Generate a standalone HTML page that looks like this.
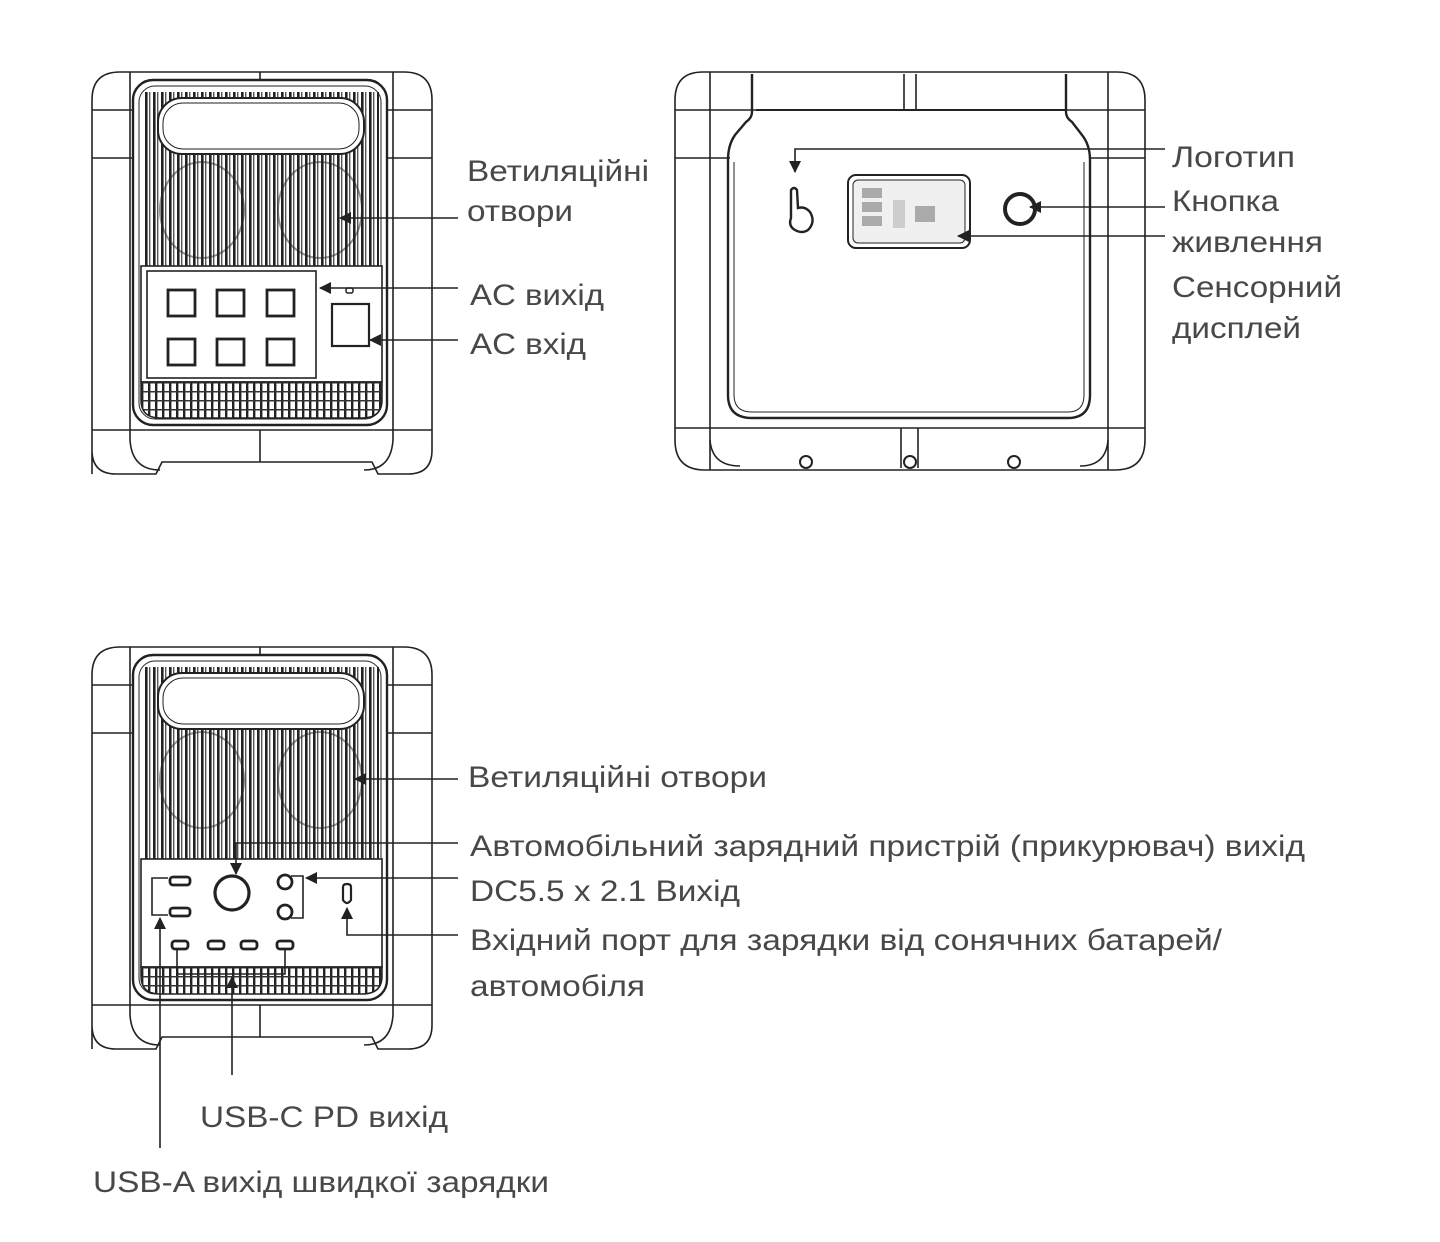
<!DOCTYPE html>
<html><head><meta charset="utf-8"><style>
html,body{margin:0;padding:0;background:#fff}
svg{display:block}
text{font-family:"Liberation Sans",Arial,sans-serif;font-size:30px;fill:#484848}
</style></head><body>
<svg width="1440" height="1242" viewBox="0 0 1440 1242" xmlns="http://www.w3.org/2000/svg">
<defs>
<pattern id="vent" x="0" y="0" width="8" height="10" patternUnits="userSpaceOnUse">
<rect x="0" y="0" width="8" height="10" fill="#fff"/><rect x="1" y="0" width="2.6" height="10" fill="#222"/><rect x="5" y="0" width="1.4" height="10" fill="#555"/>
</pattern>
<pattern id="grill" x="0" y="0" width="7" height="9" patternUnits="userSpaceOnUse">
<rect width="7" height="9" fill="#fff"/><rect x="1" y="0" width="2.4" height="9" fill="#222"/><rect x="0" y="4" width="7" height="1.5" fill="#333"/>
</pattern>
<marker id="ah" markerWidth="12" markerHeight="12" refX="11" refY="6" orient="auto" markerUnits="userSpaceOnUse">
<path d="M0,0 L12,6 L0,12 z" fill="#222"/></marker>
<g id="body" fill="none" stroke="#222" stroke-width="1.6">
<path d="M92,474 L92,100 Q92,72 120,72 L404,72 Q432,72 432,100 L432,450 Q432,474 408,474 L378,474 L372,462 L162,462 L156,474 L116,474 Q92,474 92,450"/>
<line x1="92" y1="110" x2="133" y2="110"/><line x1="92" y1="158" x2="133" y2="158"/>
<line x1="387" y1="110" x2="432" y2="110"/><line x1="387" y1="158" x2="432" y2="158"/>
<line x1="130" y1="72" x2="130" y2="440"/><line x1="393" y1="72" x2="393" y2="440"/>
<line x1="260" y1="72" x2="260" y2="80"/>
<rect x="133" y="80" width="254" height="345" rx="20" stroke-width="2.4"/>
<rect x="139" y="86" width="242" height="333" rx="16" stroke-width="1"/>
<line x1="92" y1="430" x2="432" y2="430"/>
<line x1="260" y1="430" x2="260" y2="462"/>
<path d="M130,440 Q132,470 160,470" /><path d="M393,440 Q391,470 364,470"/>
</g>
</defs>

<!-- Device 1 -->
<use href="#body"/>
<rect x="143" y="92" width="236" height="174" fill="url(#vent)"/>
<ellipse cx="202" cy="210" rx="42" ry="48" fill="none" stroke="#222" stroke-width="2" opacity=".5"/>
<ellipse cx="320" cy="210" rx="42" ry="48" fill="none" stroke="#222" stroke-width="2" opacity=".5"/>
<rect x="158" y="98" width="206" height="56" rx="24" fill="#fff" stroke="#222" stroke-width="2"/>
<rect x="163" y="103" width="196" height="46" rx="20" fill="none" stroke="#222" stroke-width="1"/>
<rect x="141" y="266" width="241" height="116" fill="#fff" stroke="#222" stroke-width="1.6"/>
<rect x="147" y="271" width="169" height="107" fill="none" stroke="#222" stroke-width="1.6"/>
<g fill="none" stroke="#222" stroke-width="2.8">
<rect x="168" y="290" width="27" height="26"/><rect x="217" y="290" width="27" height="26"/><rect x="267" y="290" width="27" height="26"/>
<rect x="168" y="339" width="27" height="26"/><rect x="217" y="339" width="27" height="26"/><rect x="267" y="339" width="27" height="26"/>
<rect x="332" y="304" width="37" height="42" stroke-width="2.2"/>
<rect x="346" y="288" width="7" height="5" rx="2" stroke-width="1.5"/>
</g>
<path d="M141,382 L382,382 L382,400 Q382,418 362,418 L160,418 Q141,418 141,400 Z" fill="url(#grill)" stroke="#222" stroke-width="1.5"/>
<g stroke="#222" stroke-width="1.6" fill="none">
<line x1="458" y1="218" x2="340" y2="218" marker-end="url(#ah)"/>
<line x1="458" y1="288" x2="320" y2="288" marker-end="url(#ah)"/>
<line x1="458" y1="340" x2="370" y2="340" marker-end="url(#ah)"/>
</g>
<text x="467" y="181" textLength="182" lengthAdjust="spacingAndGlyphs">Ветиляційні</text>
<text x="467" y="221" textLength="106" lengthAdjust="spacingAndGlyphs">отвори</text>
<text x="470" y="305" textLength="134" lengthAdjust="spacingAndGlyphs">AC вихід</text>
<text x="470" y="354" textLength="116" lengthAdjust="spacingAndGlyphs">AC вхід</text>

<!-- Device 2 (top view) -->
<g fill="none" stroke="#222" stroke-width="1.6">
<path d="M675,100 Q675,72 703,72 L1117,72 Q1145,72 1145,100 L1145,440 Q1145,470 1115,470 L705,470 Q675,470 675,440 Z"/>
<line x1="675" y1="110" x2="756" y2="110"/><line x1="675" y1="158" x2="730" y2="158"/>
<line x1="1065" y1="110" x2="1145" y2="110"/><line x1="1090" y1="158" x2="1145" y2="158"/>
<line x1="710" y1="72" x2="710" y2="470"/><line x1="1108" y1="72" x2="1108" y2="470"/>
<path d="M752,74 L752,112 Q752,118 746,122 L735,135 Q728,145 728,160 L728,395 Q728,418 752,418 L1068,418 Q1090,418 1090,395 L1090,160 Q1090,145 1082,135 L1072,122 Q1066,118 1066,112 L1066,74" stroke-width="2.4"/>
<path d="M734,162 L734,395 Q734,412 752,412 L1068,412 Q1084,412 1084,395 L1084,162" stroke-width="1"/>
<line x1="756" y1="110" x2="1065" y2="110" stroke-width="2"/>
<line x1="904" y1="74" x2="904" y2="110"/><line x1="916" y1="74" x2="916" y2="110"/>
<line x1="675" y1="428" x2="1145" y2="428"/>
<line x1="901" y1="428" x2="901" y2="468"/><line x1="918" y1="428" x2="918" y2="468"/>
<path d="M710,440 Q712,466 740,466"/><path d="M1108,440 Q1106,466 1080,466"/>
<circle cx="806" cy="462" r="6" stroke-width="2"/><circle cx="910" cy="462" r="6" stroke-width="2"/><circle cx="1014" cy="462" r="6" stroke-width="2"/>
<rect x="848" y="175" width="122" height="73" rx="8" stroke-width="2"/>
<rect x="853" y="180" width="112" height="63" rx="5" stroke-width="1" fill="#f0f0f0"/>
<circle cx="1020" cy="209" r="15" stroke-width="4"/>
<path d="M791,218 Q788,226 795,230 Q802,234 808,230 Q816,222 810,212 Q805,206 798,208 L797,190 Q794,186 791,190 Z" stroke-width="2.4"/>
</g>
<g fill="#aaa">
<rect x="862" y="188" width="20" height="10"/><rect x="862" y="202" width="20" height="10"/><rect x="862" y="216" width="20" height="10"/>
<rect x="915" y="206" width="20" height="16"/><rect x="893" y="200" width="12" height="28" opacity=".5"/>
</g>
<g stroke="#222" stroke-width="1.6" fill="none">
<polyline points="1165,149 795,149 795,172" marker-end="url(#ah)"/>
<line x1="1165" y1="207" x2="1030" y2="207" marker-end="url(#ah)"/>
<line x1="1165" y1="236" x2="958" y2="236" marker-end="url(#ah)"/>
</g>
<text x="1172" y="167" textLength="123" lengthAdjust="spacingAndGlyphs">Логотип</text>
<text x="1172" y="211" textLength="107" lengthAdjust="spacingAndGlyphs">Кнопка</text>
<text x="1172" y="252" textLength="151" lengthAdjust="spacingAndGlyphs">живлення</text>
<text x="1172" y="297" textLength="170" lengthAdjust="spacingAndGlyphs">Сенсорний</text>
<text x="1172" y="338" textLength="129" lengthAdjust="spacingAndGlyphs">дисплей</text>

<!-- Device 3 -->
<use href="#body" transform="translate(0,575)"/>
<rect x="143" y="667" width="236" height="192" fill="url(#vent)"/>
<ellipse cx="202" cy="780" rx="42" ry="48" fill="none" stroke="#222" stroke-width="2" opacity=".5"/>
<ellipse cx="320" cy="780" rx="42" ry="48" fill="none" stroke="#222" stroke-width="2" opacity=".5"/>
<rect x="158" y="673" width="206" height="56" rx="24" fill="#fff" stroke="#222" stroke-width="2"/>
<rect x="163" y="678" width="196" height="46" rx="20" fill="none" stroke="#222" stroke-width="1"/>
<rect x="141" y="859" width="241" height="108" fill="#fff" stroke="#222" stroke-width="1.6"/>
<path d="M141,967 L382,967 L382,976 Q382,994 362,994 L160,994 Q141,994 141,976 Z" fill="url(#grill)" stroke="#222" stroke-width="1.5"/>
<g fill="none" stroke="#222" stroke-width="2.8">
<rect x="170" y="877" width="20" height="8" rx="3"/><rect x="170" y="908" width="20" height="8" rx="3"/>
<circle cx="232" cy="893" r="17" stroke-width="3.2"/>
<circle cx="285" cy="882" r="7"/><circle cx="285" cy="912" r="7"/>
<path d="M343,887 Q343,884 347,884 Q351,884 351,887 L351,900 Q347,906 343,900 Z" stroke-width="2.2"/>
<rect x="172" y="941" width="16" height="8" rx="3"/><rect x="208" y="941" width="16" height="8" rx="3"/>
<rect x="241" y="941" width="16" height="8" rx="3"/><rect x="277" y="941" width="16" height="8" rx="3"/>
</g>
<g stroke="#222" stroke-width="1.6" fill="none">
<polyline points="168,878 152,878 152,915 168,915"/>
<polyline points="291,876 303,876 303,918 291,918"/>
<polyline points="177,950 177,974 285,974 285,950"/>
<line x1="458" y1="779" x2="355" y2="779" marker-end="url(#ah)"/>
<polyline points="458,843 236,843 236,874" marker-end="url(#ah)"/>
<line x1="458" y1="878" x2="306" y2="878" marker-end="url(#ah)"/>
<polyline points="458,935 347,935 347,908" marker-end="url(#ah)"/>
<polyline points="160,1148 160,918" marker-end="url(#ah)"/>
<polyline points="232,1075 232,977" marker-end="url(#ah)"/>
</g>
<text x="468" y="787" textLength="299" lengthAdjust="spacingAndGlyphs">Ветиляційні отвори</text>
<text x="470" y="856" textLength="835" lengthAdjust="spacingAndGlyphs">Автомобільний зарядний пристрій (прикурювач) вихід</text>
<text x="470" y="901" textLength="270" lengthAdjust="spacingAndGlyphs">DC5.5 x 2.1 Вихід</text>
<text x="470" y="950" textLength="752" lengthAdjust="spacingAndGlyphs">Вхідний порт для зарядки від сонячних батарей/</text>
<text x="470" y="996" textLength="175" lengthAdjust="spacingAndGlyphs">автомобіля</text>
<text x="200" y="1127" textLength="248" lengthAdjust="spacingAndGlyphs">USB-C PD вихід</text>
<text x="93" y="1192" textLength="456" lengthAdjust="spacingAndGlyphs">USB-A вихід швидкої зарядки</text>
</svg>
</body></html>
